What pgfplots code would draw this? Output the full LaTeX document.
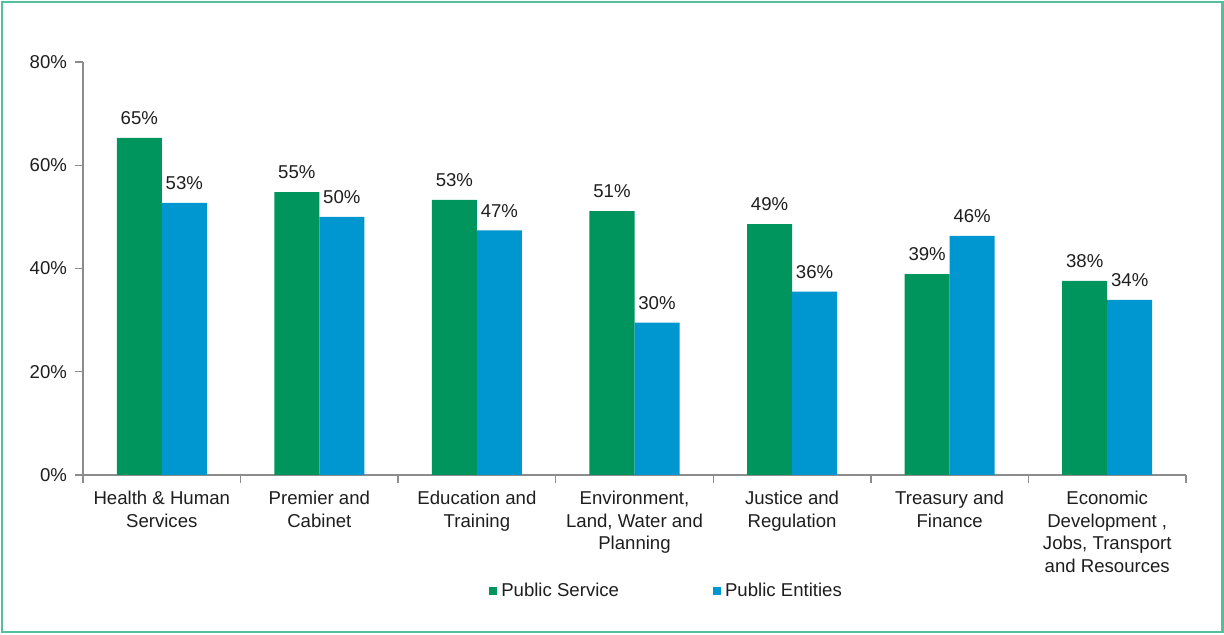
\documentclass[border=0pt]{standalone}
\usepackage{pgfplots}
\pgfplotsset{compat=1.18}
\usepackage{fontspec}
\setmainfont{Liberation Sans}
\definecolor{psgreen}{HTML}{00955C}
\definecolor{peblue}{HTML}{0097D0}
\definecolor{frame}{HTML}{52C09C}
\definecolor{axgray}{HTML}{8C8C8C}
\definecolor{txt}{HTML}{1E1E1E}
\begin{document}
\begin{tikzpicture}
\useasboundingbox (0,0) rectangle (612bp,317.5bp);
\draw[frame, line width=1.1bp] (0.8bp,1.4bp) rectangle (611.2bp,316.6bp);
\begin{axis}[
  at={(41.5bp,80bp)}, anchor=south west,
  scale only axis, width=551.5bp, height=206.5bp,
  ybar=0pt, bar width=22.5bp,
  xmin=-0.5, xmax=6.5, ymin=0, ymax=80,
  axis lines*=left,
  axis line style={axgray, line width=0.7bp},
  tick align=outside,
  ytick={0,20,40,60,80},
  yticklabel={\pgfmathprintnumber{\tick}\%},
  major tick length=4bp,
  minor tick length=4bp,
  ytick style={axgray, line width=0.7bp},
  xtick={0,...,6},
  minor xtick={-0.5,0.5,...,6.5},
  major x tick style={draw=none},
  minor x tick style={axgray, line width=0.7bp},
  xticklabels={{Health \& Human\\Services},{Premier and\\Cabinet},{Education and\\Training},{Environment,\\Land, Water and\\Planning},{Justice and\\Regulation},{Treasury and\\Finance},{Economic\\Development ,\\Jobs, Transport\\and Resources}},
  xticklabel style={align=center, anchor=north, yshift=-0.5bp},
  yticklabel style={xshift=-0.5bp},
  ticklabel style={font=\fontsize{9.3bp}{11.3bp}\selectfont, text=txt},
  /pgf/number format/assume math mode=true,
  point meta=explicit symbolic,
  nodes near coords,
  every node near coord/.append style={font=\fontsize{9.3bp}{11.3bp}\selectfont, text=txt, yshift=3bp},
  legend columns=2,
  legend style={at={(0.530,-0.281)}, anchor=center, draw=none, fill=none,
    font=\fontsize{9.3bp}{11.3bp}\selectfont, text=txt,
    /tikz/every even column/.append style={column sep=45bp},
    /tikz/every odd column/.append style={column sep=0bp}},
  legend image code/.code={\fill[#1] (0bp,-2bp) rectangle (4bp,2bp);},
]
\addplot[fill=psgreen, draw=none] coordinates {
  (0,65.3) [65\%]
  (1,54.8) [55\%]
  (2,53.3) [53\%]
  (3,51.1) [51\%]
  (4,48.6) [49\%]
  (5,38.9) [39\%]
  (6,37.6) [38\%]
};
\addplot[fill=peblue, draw=none] coordinates {
  (0,52.7) [53\%]
  (1,50.0) [50\%]
  (2,47.4) [47\%]
  (3,29.5) [30\%]
  (4,35.5) [36\%]
  (5,46.3) [46\%]
  (6,33.9) [34\%]
};
\legend{Public Service, Public Entities}
\end{axis}
\end{tikzpicture}
\end{document}
